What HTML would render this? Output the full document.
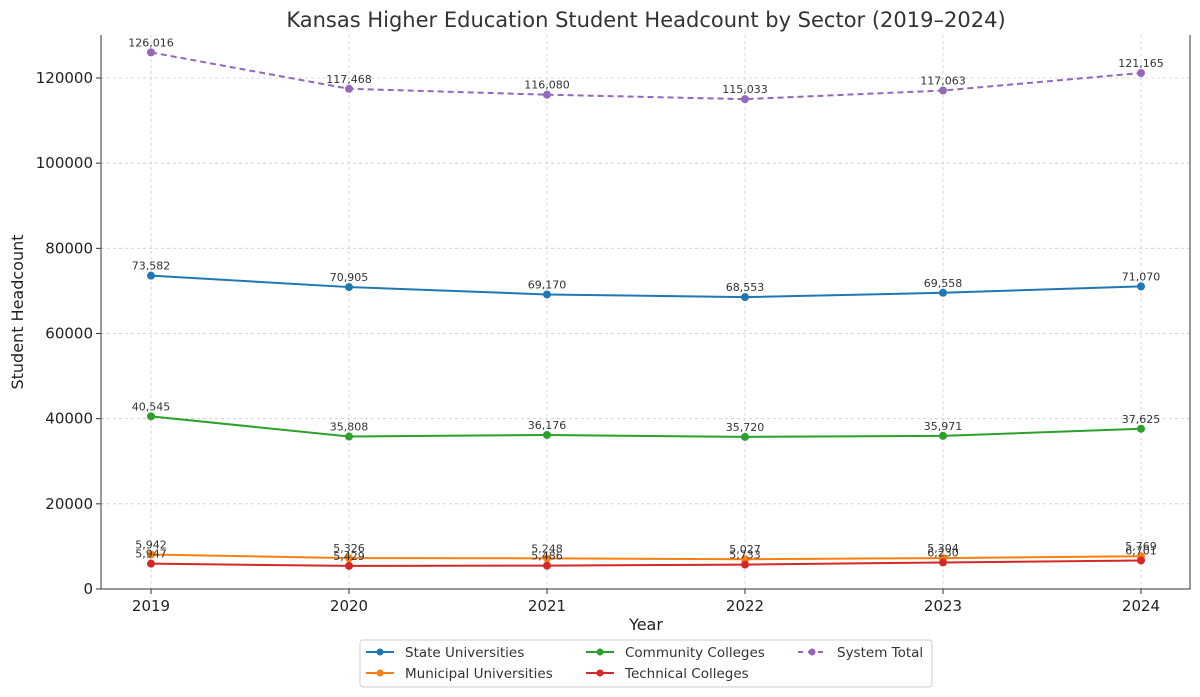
<!DOCTYPE html>
<html><head><meta charset="utf-8"><style>
body{margin:0;background:#fff;}
svg{display:block;font-family:"DejaVu Sans","Liberation Sans",sans-serif;}
</style></head><body>
<svg id="chart" width="1200" height="697" xmlns="http://www.w3.org/2000/svg">
<text x="646" y="27" text-anchor="middle" font-size="21" fill="#333">Kansas Higher Education Student Headcount by Sector (2019–2024)</text>
<g id="grid"></g>
<g id="axes"></g>
<g id="series"></g>
<text x="646" y="630" text-anchor="middle" font-size="16" fill="#222">Year</text>
<text transform="translate(23,312) rotate(-90)" text-anchor="middle" font-size="16" fill="#222">Student Headcount</text>
<g>
<rect x="360" y="640" width="572" height="47" rx="3" fill="#fff" stroke="#ccc"/>
<g id="legend"></g>
</g>
</svg>
<script>
const years = [2019, 2020, 2021, 2022, 2023, 2024];
const yTicks = [0, 20000, 40000, 60000, 80000, 100000, 120000];
const stateVals = [73582, 70905, 69170, 68553, 69558, 71070];
const municipalVals = [8100, 7250, 7200, 7000, 7250, 7700];
const municipalLabels = ["5,942", "5,326", "5,248", "5,027", "5,304", "5,769"];
const communityVals = [40545, 35808, 36176, 35720, 35971, 37625];
const technicalVals = [5947, 5429, 5486, 5733, 6230, 6701];
const totalVals = [126016, 117468, 116080, 115033, 117063, 121165];

const NS = "http://www.w3.org/2000/svg";
const X0 = 101, X1 = 1190, Y0 = 35, Y1 = 589;
const xs = y => 151 + (y - 2019) * 198;
const ys = v => 589 - v * 511 / 120000;
function el(tag, attrs, parent){const e=document.createElementNS(NS,tag);for(const k in attrs)e.setAttribute(k,attrs[k]);parent.appendChild(e);return e;}
const fmt = v => v.toLocaleString("en-US");

const grid = document.getElementById("grid"), axes = document.getElementById("axes"), ser = document.getElementById("series");
years.forEach(y => {
  const l = el("line",{x1:xs(y),x2:xs(y),y1:Y0,y2:Y1,stroke:"#ccc","stroke-dasharray":"3,3","stroke-width":0.8},grid);
  
  
  el("line",{x1:xs(y),x2:xs(y),y1:Y1,y2:Y1+5,stroke:"#333"},axes);
  const t = el("text",{x:xs(y),y:Y1+22,"text-anchor":"middle","font-size":15,fill:"#222"},axes);
  t.textContent = y;
  
  
});
yTicks.forEach(v => {
  const l = el("line",{x1:X0,x2:X1,y1:ys(v),y2:ys(v),stroke:"#ccc","stroke-dasharray":"3,3","stroke-width":0.8},grid);
  
  
  el("line",{x1:X0-5,x2:X0,y1:ys(v),y2:ys(v),stroke:"#333"},axes);
  const t = el("text",{x:X0-8,y:ys(v)+5,"text-anchor":"end","font-size":15,fill:"#222"},axes);
  t.textContent = v;
  
  
});
el("path",{d:`M${X0},${Y0} V${Y1} H${X1} V${Y0}`,fill:"none",stroke:"#333","stroke-width":1},axes);

const series = [
  {name:"state-universities",vals:stateVals,labels:stateVals.map(fmt),color:"#1f77b4",dash:null},
  {name:"community-colleges",vals:communityVals,labels:communityVals.map(fmt),color:"#2ca02c",dash:null},
  {name:"municipal-universities",vals:municipalVals,labels:municipalLabels,color:"#ff7f0e",dash:null},
  {name:"technical-colleges",vals:technicalVals,labels:technicalVals.map(fmt),color:"#d62728",dash:null},
  {name:"system-total",vals:totalVals,labels:totalVals.map(fmt),color:"#9467bd",dash:"6,4"}
];
series.forEach(s => {
  const g = el("g",{},ser);
  
  
  const d = s.vals.map((v,i)=>(i?"L":"M")+xs(years[i])+","+ys(v)).join(" ");
  const p = el("path",{d:d,fill:"none",stroke:s.color,"stroke-width":2,...(s.dash?{"stroke-dasharray":s.dash}:{})},g);
  
  
  s.vals.forEach((v,i) => {
    const c = el("circle",{cx:xs(years[i]),cy:ys(v),r:4,fill:s.color},g);
    
    
    const t = el("text",{x:xs(years[i]),y:ys(v)-6,"text-anchor":"middle","font-size":11,fill:"#333"},g);
    t.textContent = s.labels[i];
    
    
  });
});

const leg = document.getElementById("legend");
const items = [
  ["State Universities","#1f77b4",null,366,652],["Municipal Universities","#ff7f0e",null,366,673],
  ["Community Colleges","#2ca02c",null,586,652],["Technical Colleges","#d62728",null,586,673],
  ["System Total","#9467bd","6,4",798,652]
];
items.forEach(([label,color,dash,x,y]) => {
  const g = el("g",{},leg);
  
  
  el("line",{x1:x,x2:x+28,y1:y,y2:y,stroke:color,"stroke-width":2,...(dash?{"stroke-dasharray":"5,5"}:{})},g);
  el("circle",{cx:x+14,cy:y,r:3.5,fill:color},g);
  const t = el("text",{x:x+39,y:y+5,"font-size":13.5,fill:"#333"},g);
  t.textContent = label;
});
</script>
</body></html>
